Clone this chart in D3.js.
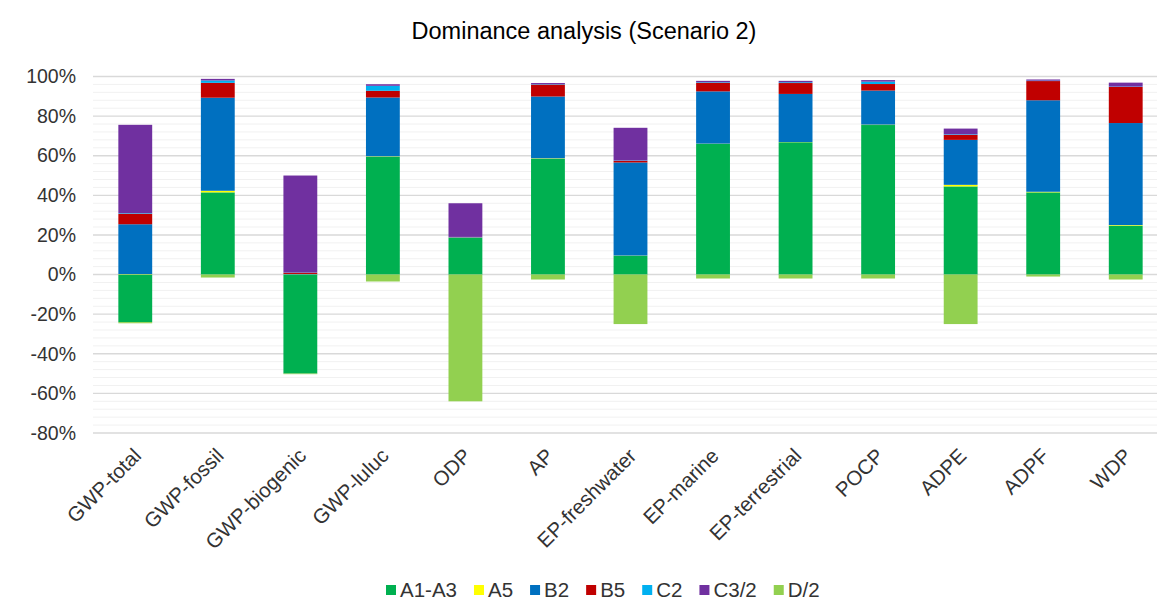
<!DOCTYPE html>
<html>
<head>
<meta charset="utf-8">
<script src="https://cdn.jsdelivr.net/npm/d3@7"></script>
<style>
  body { margin: 0; background: #fff; }
  text { font-family: 'Liberation Sans', Arial, sans-serif; }
</style>
</head>
<body>
<div id="chart"></div>
<script>
const categories = ['GWP-total', 'GWP-fossil', 'GWP-biogenic', 'GWP-luluc', 'ODP', 'AP',
  'EP-freshwater', 'EP-marine', 'EP-terrestrial', 'POCP', 'ADPE', 'ADPF', 'WDP'];

const seriesNames = ['A1-A3', 'A5', 'B2', 'B5', 'C2', 'C3/2', 'D/2'];
const seriesColors = ['#00b050', '#ffff00', '#0070c0', '#c00000', '#00b0f0', '#7030a0', '#92d050'];

// values in %
const a1a3 = [-24, 41.5, -50, 59.5, 18.5, 58.5, 9.5, 66, 66.8, 75.5, 44.5, 41.5, 24.7];
const a5 = [0.2, 0.8, 0.1, 0.2, 0.1, 0.2, 0.1, 0.1, 0.1, 0.2, 0.8, 0.3, 0.3];
const b2 = [25.2, 47, 0.2, 29.7, 0.2, 31.2, 47, 26.4, 24.3, 17.2, 22.7, 46.2, 51.5];
const b5 = [5.3, 7.5, 0.6, 3.4, 0.1, 6, 0.8, 4.3, 5.5, 3.3, 2.5, 9.7, 18.2];
const c2 = [0.3, 1.2, 0.1, 2.5, 0.1, 0.2, 0.2, 0.3, 0.4, 1.2, 0.3, 0.2, 0.2];
const c32 = [44.6, 0.8, 49, 0.8, 17, 0.6, 16.5, 0.7, 0.7, 0.8, 2.9, 0.6, 2];
const d2 = [-0.6, -1.5, -0.3, -3.5, -64, -2.5, -25, -2, -2, -2, -25, -1, -2.5];

const yTicks = [-80, -60, -40, -20, 0, 20, 40, 60, 80, 100];

const seriesValues = [a1a3, a5, b2, b5, c2, c32, d2];
const data = categories.map((c, i) => {
  const row = { cat: c };
  seriesNames.forEach((s, j) => { row[s] = seriesValues[j][i]; });
  return row;
});

const width = 1157;
const height = 603;
const textColor = '#333';

const svg = d3.select('#chart')
  .append('svg')
  .attr('width', width)
  .attr('height', height);

svg.append('text')
  .attr('x', 584)
  .attr('y', 39)
  .attr('text-anchor', 'middle')
  .attr('font-size', 23.5)
  .attr('fill', '#000')
  .text('Dominance analysis (Scenario 2)');

const x = d3.scaleBand()
  .domain(categories)
  .range([94, 1167])
  .padding(0);

const y = d3.scaleLinear()
  .domain([-80, 100])
  .range([433, 76.5]);

const barW = x.bandwidth() * 0.41;

// minor grid
svg.append('g')
  .selectAll('line')
  .data(d3.range(-80, 100, 4).filter(v => v % 20 !== 0))
  .enter()
  .append('line')
  .attr('x1', 93)
  .attr('x2', width)
  .attr('y1', d => y(d))
  .attr('y2', d => y(d))
  .attr('stroke', '#f1f1f1')
  .attr('stroke-width', 1);

// major grid
svg.append('g')
  .selectAll('line')
  .data(yTicks)
  .enter()
  .append('line')
  .attr('x1', 93)
  .attr('x2', width)
  .attr('y1', d => y(d))
  .attr('y2', d => y(d))
  .attr('stroke', '#d9d9d9')
  .attr('stroke-width', 1.4);

const yAxis = svg.append('g')
  .attr('transform', 'translate(76,0)')
  .call(d3.axisLeft(y).tickValues(yTicks).tickSize(0).tickPadding(0).tickFormat(d => d + '%'));
yAxis.select('.domain').remove();
yAxis.selectAll('text')
  .attr('font-family', "'Liberation Sans', Arial, sans-serif")
  .attr('font-size', 19.5)
  .attr('fill', textColor);

const stack = d3.stack()
  .keys(seriesNames)
  .offset(d3.stackOffsetDiverging);

const z = d3.scaleOrdinal().domain(seriesNames).range(seriesColors);

const serie = svg.append('g')
  .selectAll('.serie')
  .data(stack(data))
  .enter()
  .append('g')
  .attr('class', 'serie')
  .attr('fill', d => z(d.key));

serie.selectAll('rect')
  .data(d => d)
  .enter()
  .append('rect')
  .attr('x', d => x(d.data.cat) + (x.bandwidth() - barW) / 2)
  .attr('width', barW)
  .attr('y', d => y(Math.max(d[0], d[1])))
  .attr('height', d => Math.abs(y(d[0]) - y(d[1])));

// rotated category labels
svg.append('g')
  .selectAll('text')
  .data(categories)
  .enter()
  .append('text')
  .attr('transform', d => `translate(${x(d) + x.bandwidth() / 2 + 2},${452}) rotate(-45)`)
  .attr('text-anchor', 'end')
  .attr('dy', '0.35em')
  .attr('font-size', 20.5)
  .attr('fill', textColor)
  .text(d => d);

// legend
const legend = svg.append('g').attr('transform', 'translate(386,590)');
let lx = 0;
seriesNames.forEach((s, i) => {
  legend.append('rect')
    .attr('x', lx)
    .attr('y', -5)
    .attr('width', 10)
    .attr('height', 10)
    .attr('fill', seriesColors[i]);
  const t = legend.append('text')
    .attr('x', lx + 14)
    .attr('y', 0)
    .attr('dy', '0.35em')
    .attr('font-size', 20.5)
    .attr('fill', textColor)
    .text(s);
  lx += 14 + t.node().getComputedTextLength() + 17;
});
</script>
</body>
</html>
